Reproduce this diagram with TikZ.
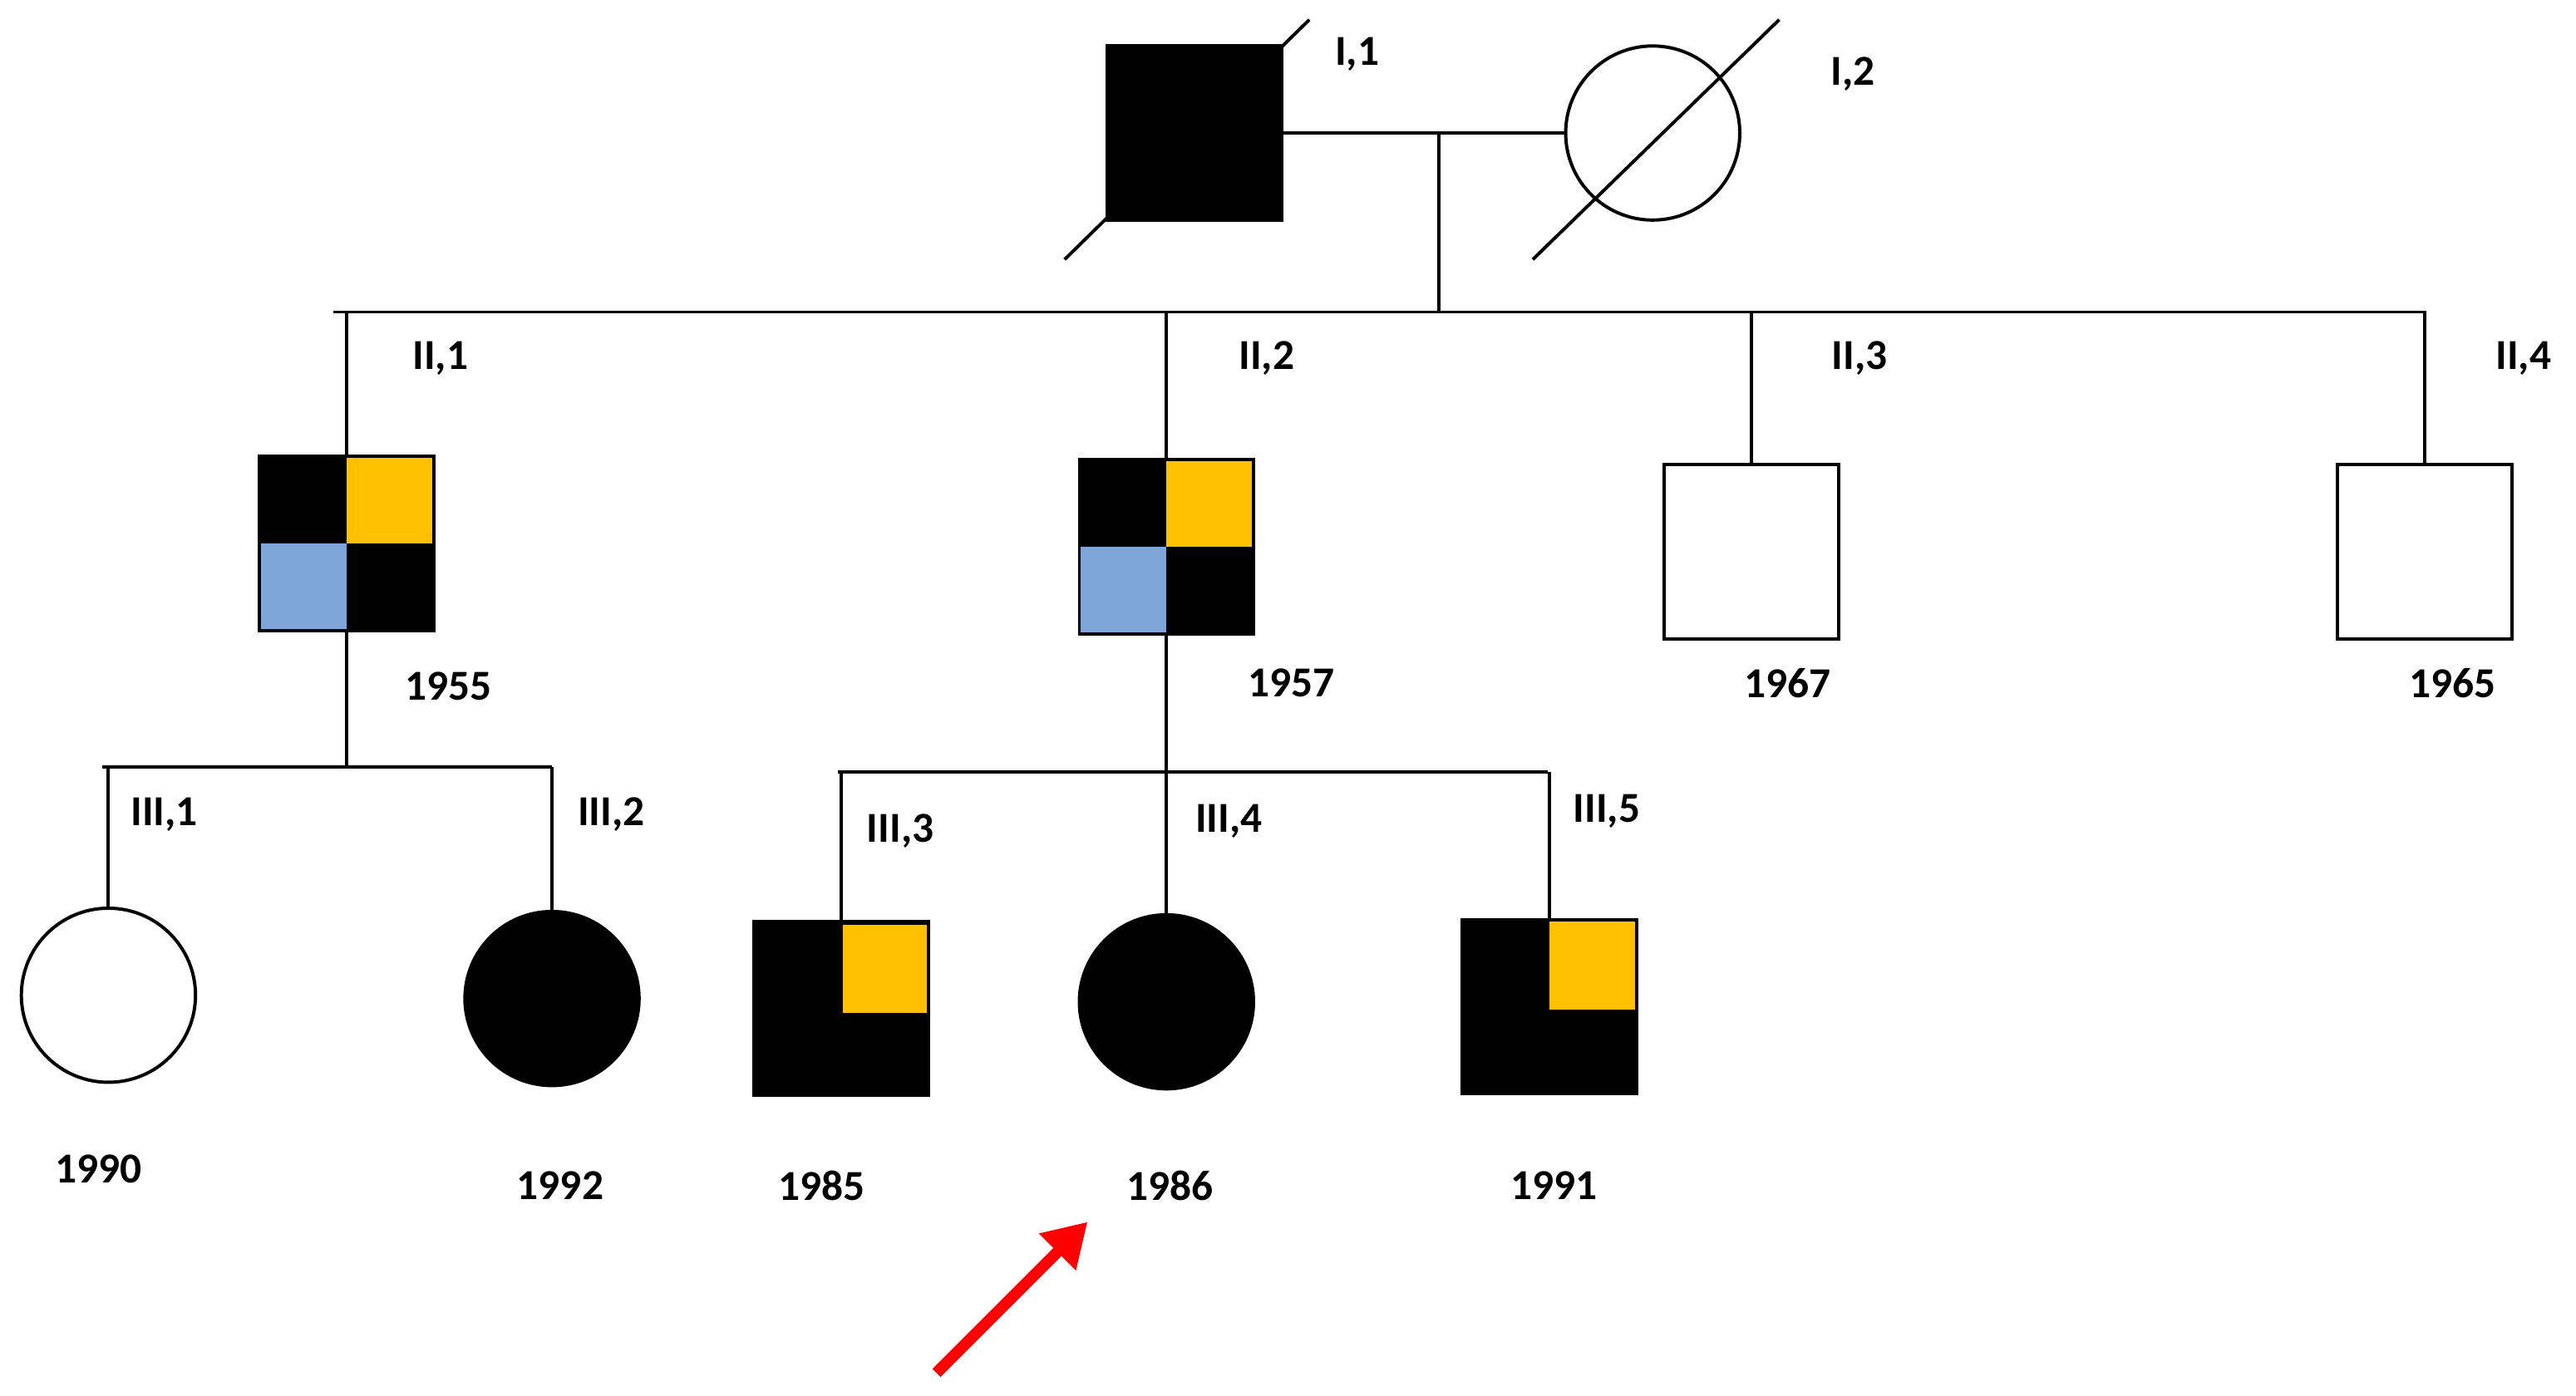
\documentclass[tikz,border=0pt]{standalone}
\usepackage{fontspec}
\setmainfont{Carlito}
\usetikzlibrary{arrows.meta}
\begin{document}
\begin{tikzpicture}[x=1pt,y=-1pt,
  ln/.style={line width=2pt},
  sq/.style={draw,line width=2pt,minimum size=106pt,inner sep=0pt},
  ci/.style={circle,draw,line width=2pt,minimum size=106pt,inner sep=0pt},
  lab/.style={font=\bfseries\fontsize{26}{28}\selectfont,inner sep=0pt}]
\useasboundingbox (0,0) rectangle (1568,850);
\definecolor{org}{HTML}{FFC000}
\definecolor{blu}{HTML}{7FA6D8}
% generation I
\node[sq,fill=black] (i1) at (727,81) {};
\node[ci] (i2) at (1006,81) {};
\draw[ln] (648,158) -- (797,12);
\draw[ln] (933,158) -- (1083,12);
\node[lab] (li1) at (826,33) {I,1};
\node[lab] (li2) at (1128,45) {I,2};
\draw[ln] (i1.east) -- (i2.west);
\coordinate (m1) at (876,81);
\coordinate (s1) at (876,190);
\draw[ln] (m1) -- (s1);
\draw[ln] (203,190) -- (1477,190);
% generation II
\newcommand{\quadsq}[3]{%
  \fill[black] (#2-53,#3-53) rectangle (#2+53,#3+53);
  \fill[org] (#2,#3-53) rectangle (#2+53,#3);
  \fill[blu] (#2-53,#3) rectangle (#2,#3+53);
  \node[sq] (#1) at (#2,#3) {};}
\quadsq{ii1}{211}{331}
\quadsq{ii2}{710}{333}
\node[sq] (ii3) at (1066,336) {};
\node[sq] (ii4) at (1476,336) {};
\draw[ln] (ii1.north |- 0,190) -- (ii1.north);
\draw[ln] (ii2.north |- 0,190) -- (ii2.north);
\draw[ln] (ii3.north |- 0,190) -- (ii3.north);
\draw[ln] (ii4.north |- 0,190) -- (ii4.north);
\node[lab] at (268,218) {II,1};
\node[lab] at (771,218) {II,2};
\node[lab] at (1132,218) {II,3};
\node[lab] at (1536,218) {II,4};
\node[lab] at (273,418) {1955};
\node[lab] at (786,416) {1957};
\node[lab] at (1088,416) {1967};
\node[lab] at (1493,416) {1965};
% generation III
\draw[ln] (ii1.south) -- (211,467);
\draw[ln] (62,467) -- (336,467);
\node[ci] (iii1) at (66,606) {};
\node[ci,fill=black] (iii2) at (336,608) {};
\draw[ln] (iii1.north |- 0,467) -- (iii1.north);
\draw[ln] (iii2.north |- 0,467) -- (iii2.north);
\draw[ln] (ii2.south) -- (710,470);
\draw[ln] (510,470) -- (942,470);
\fill[black] (458,561) rectangle (566,668);
\fill[org] (513,563) rectangle (566,617);
\node[sq] (iii3) at (512,614) {};
\node[ci,fill=black] (iii4) at (710,610) {};
\fill[black] (889,559) rectangle (997,667);
\fill[org] (943,561) rectangle (995,615);
\node[sq] (iii5) at (943,613) {};
\draw[ln] (iii3.north |- 0,470) -- (iii3.north);
\draw[ln] (iii4.north |- 0,470) -- (iii4.north);
\draw[ln] (iii5.north |- 0,470) -- (iii5.north);
\node[lab] at (100,496) {III,1};
\node[lab] at (372,496) {III,2};
\node[lab] at (548,506) {III,3};
\node[lab] at (748,500) {III,4};
\node[lab] at (978,494) {III,5};
\node[lab] at (60,712) {1990};
\node[lab] at (341,722) {1992};
\node[lab] at (500,722) {1985};
\node[lab] (y86) at (712,722) {1986};
\node[lab] at (946,722) {1991};
\coordinate (ar) at (570,836);
\draw[red,line width=7pt,-{Triangle[length=26pt,width=30pt]}] (ar) -- (662,744);
\end{tikzpicture}
\end{document}
